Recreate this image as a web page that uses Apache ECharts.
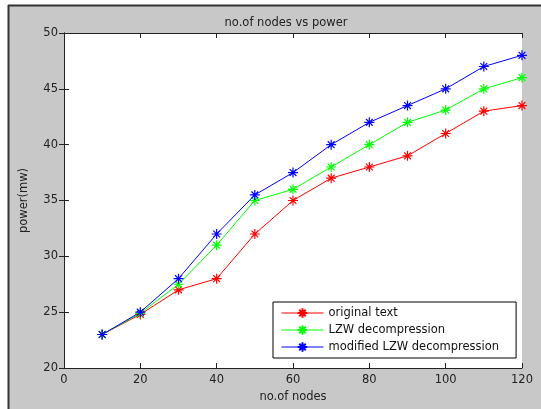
<!DOCTYPE html>
<html><head><meta charset="utf-8">
<script src="https://cdn.jsdelivr.net/npm/echarts@6/dist/echarts.min.js"></script>
<style>html,body{margin:0;padding:0;background:#fff}#c{width:541px;height:409px}</style>
</head><body><div id="c"></div>
<script>
const nodes = [10,20,30,40,50,60,70,80,90,100,110,120];
const originalText = [23,24.8,27,28,32,35,37,38,39,41,43,43.5];
const lzwDecomp = [23,24.9,27.5,31,35,36,38,40,42,43.1,45,46];
const modLzwDecomp = [23,25,28,32,35.5,37.5,40,42,43.5,45,47,48];
const seriesNames = ['original text','LZW decompression','modified LZW decompression'];
const colors = ['#ff0000','#00ff00','#0000ff'];
const star = 'path://M5 0L5 10M0 5L10 5M1.6 1.6L8.4 8.4M8.4 1.6L1.6 8.4';
const font = 'DejaVu Sans, Verdana, sans-serif';
const chart = echarts.init(document.getElementById('c'));
function mk(name, data, c){
  return {name:name,type:'line',data:nodes.map((x,i)=>[x,data[i]]),
    symbol:star,symbolSize:10,showSymbol:true,
    lineStyle:{color:c,width:1},
    itemStyle:{color:c,borderColor:c,borderWidth:1.2},
    emphasis:{disabled:true},animation:false};
}
const axLine={lineStyle:{color:'#222',width:1}};
chart.setOption({
  backgroundColor:'#c8c8c8',
  animation:false,
  title:{text:'no.of nodes vs power',left:281,top:12,textAlign:'center',
    textStyle:{fontFamily:font,fontSize:11.5,fontWeight:'normal',color:'#222'}},
  grid:{left:64,top:33,width:458,height:335,show:true,backgroundColor:'#fff',borderWidth:0},
  legend:{orient:'vertical',left:273,top:302,
    backgroundColor:'#fff',borderColor:'#000',borderWidth:1,borderRadius:0,
    padding:[5,17,5,8],itemGap:5,itemWidth:42,itemHeight:12,
    lineStyle:{width:1},
    textStyle:{fontFamily:font,fontSize:11.5,color:'#111'},
    data:seriesNames},
  xAxis:[{type:'value',min:0,max:120,interval:20,
    name:'no.of nodes',nameLocation:'middle',nameGap:22,
    nameTextStyle:{fontFamily:font,fontSize:11.5,color:'#222'},
    axisLine:axLine,axisTick:{inside:true,length:5,lineStyle:{color:'#222'}},
    axisLabel:{fontFamily:font,fontSize:11.5,color:'#222',margin:6},splitLine:{show:false}},
   {type:'value',position:'top',min:0,max:120,interval:20,
    axisLine:axLine,axisTick:{inside:true,length:5,lineStyle:{color:'#222'}},
    axisLabel:{show:false},splitLine:{show:false}}],
  yAxis:[{type:'value',min:20,max:50,interval:5,
    name:'power(mw)',nameLocation:'middle',nameGap:34,
    nameTextStyle:{fontFamily:font,fontSize:11.5,color:'#222'},
    axisLine:axLine,axisTick:{inside:true,length:5,lineStyle:{color:'#222'}},
    axisLabel:{fontFamily:font,fontSize:11.5,color:'#222',margin:6},splitLine:{show:false}},
   {type:'value',position:'right',min:20,max:50,interval:5,
    axisLine:axLine,axisTick:{inside:true,length:5,lineStyle:{color:'#222'}},
    axisLabel:{show:false},splitLine:{show:false}}],
  graphic:[
    {type:'rect',shape:{x:0,y:0,width:541,height:5},style:{fill:'#fff'},z:-1},
    {type:'rect',shape:{x:0,y:0,width:8,height:409},style:{fill:'#fff'},z:-1},
    {type:'line',shape:{x1:8,y1:5.5,x2:541,y2:5.5},style:{stroke:'#333',lineWidth:2}},
    {type:'line',shape:{x1:8.5,y1:5,x2:8.5,y2:409},style:{stroke:'#333',lineWidth:2}}
  ],
  series:[mk(seriesNames[0],originalText,colors[0]),mk(seriesNames[1],lzwDecomp,colors[1]),mk(seriesNames[2],modLzwDecomp,colors[2])]
});
</script></body></html>
